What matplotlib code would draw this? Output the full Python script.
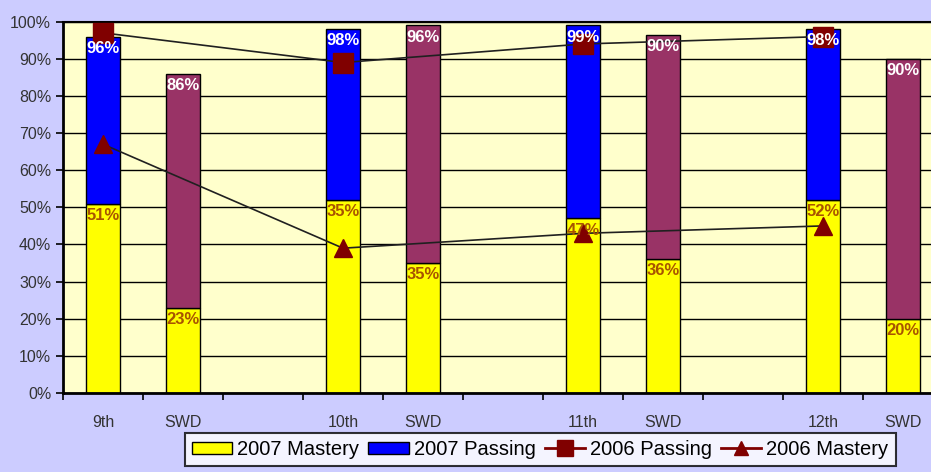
import numpy as np
import matplotlib.pyplot as plt
from matplotlib.patches import Patch
from matplotlib.lines import Line2D

# x categories (blank slots separate the grade groups)
categories = ["9th", "SWD", "", "10th", "SWD", "", "11th", "SWD", "", "12th", "SWD"]
grade_pos = [0, 3, 6, 9]
swd_pos = [1, 4, 7, 10]

# 2007 results
grade_mastery = [51, 52, 47, 52]
grade_passing = [96, 98, 99, 98]
swd_mastery = [23, 35, 36, 20]
swd_passing = [86, 99, 96.5, 90]

# value labels as printed on the bars
grade_mastery_text = ["51%", "35%", "47%", "52%"]
grade_passing_text = ["96%", "98%", "99%", "98%"]
swd_mastery_text = ["23%", "35%", "36%", "20%"]
swd_passing_text = ["86%", "96%", "90%", "90%"]

# 2006 results (grades only)
passing_2006 = [97, 89, 94, 96]
mastery_2006 = [67, 39, 43, 45]

plt.rcParams["font.family"] = ["Liberation Sans", "DejaVu Sans"]

fig = plt.figure(figsize=(9.31, 4.72), dpi=100, facecolor="#CCCCFF")
ax = fig.add_axes([63 / 931, 1 - 393 / 472, 880 / 931, (393 - 21.7) / 472])
ax.set_facecolor("#FFFFCC")

w = 0.43
ax.bar(grade_pos, grade_mastery, w, color="#FFFF00", edgecolor="black", lw=1, zorder=2)
ax.bar(grade_pos, np.subtract(grade_passing, grade_mastery), w, bottom=grade_mastery,
       color="#0000FF", edgecolor="black", lw=1, zorder=2)
ax.bar(swd_pos, swd_mastery, w, color="#FFFF00", edgecolor="black", lw=1, zorder=2)
ax.bar(swd_pos, np.subtract(swd_passing, swd_mastery), w, bottom=swd_mastery,
       color="#993366", edgecolor="black", lw=1, zorder=2)

ax.plot(grade_pos, passing_2006, color="#202020", lw=1.2, marker="s", ms=14,
        mfc="#800000", mec="#800000", zorder=3)
ax.plot(grade_pos, mastery_2006, color="#202020", lw=1.2, marker="^", ms=13,
        mfc="#800000", mec="#800000", zorder=3)

def put_labels(xs, ys, texts, color):
    for x, y, t in zip(xs, ys, texts):
        ax.annotate(t, (x, y), xytext=(0, -3), textcoords="offset points",
                    ha="center", va="top", color=color, fontsize=12,
                    fontweight="bold", zorder=5)

put_labels(grade_pos, grade_passing, grade_passing_text, "white")
put_labels(swd_pos, swd_passing, swd_passing_text, "white")
put_labels(grade_pos, grade_mastery, grade_mastery_text, "#A85400")
put_labels(swd_pos, swd_mastery, swd_mastery_text, "#A85400")

ax.set_xlim(-0.5, 10.5)
ax.set_ylim(0, 100)
ax.set_yticks(range(0, 101, 10))
ax.set_yticklabels([f"{v}%" for v in range(0, 101, 10)], color="#333333", fontsize=11.5)
ax.yaxis.grid(True, color="black", lw=1)
ax.set_axisbelow(True)

ax.set_xticks(range(len(categories)))
ax.set_xticklabels(categories, color="#333333", fontsize=11.5)
ax.tick_params(axis="x", which="major", length=0, pad=16)
ax.set_xticks(np.arange(-0.5, 11, 1), minor=True)
ax.tick_params(axis="x", which="minor", length=5, width=1.2, direction="out")
ax.tick_params(axis="y", length=5, width=1.2, direction="out")

for s in ["left", "bottom"]:
    ax.spines[s].set_linewidth(2)
ax.spines["top"].set_linewidth(1.5)

handles = [
    Patch(facecolor="#FFFF00", edgecolor="black", label="2007 Mastery"),
    Patch(facecolor="#0000FF", edgecolor="black", label="2007 Passing"),
    Line2D([], [], color="#800000", lw=2, marker="s", ms=11, label="2006 Passing"),
    Line2D([], [], color="#800000", lw=2, marker="^", ms=10, label="2006 Mastery"),
]
leg = fig.legend(handles=handles, loc="upper left", bbox_to_anchor=(185 / 931, 1 - 433 / 472),
                 ncol=4, frameon=True, fancybox=False, edgecolor="black",
                 prop={"size": 14.5},
                 handlelength=2.0, handleheight=0.6, handletextpad=0.25,
                 columnspacing=0.45, borderpad=0.35, borderaxespad=0)
leg.get_frame().set_linewidth(1.5)

fig.savefig("out.png", dpi=100, facecolor=fig.get_facecolor())
